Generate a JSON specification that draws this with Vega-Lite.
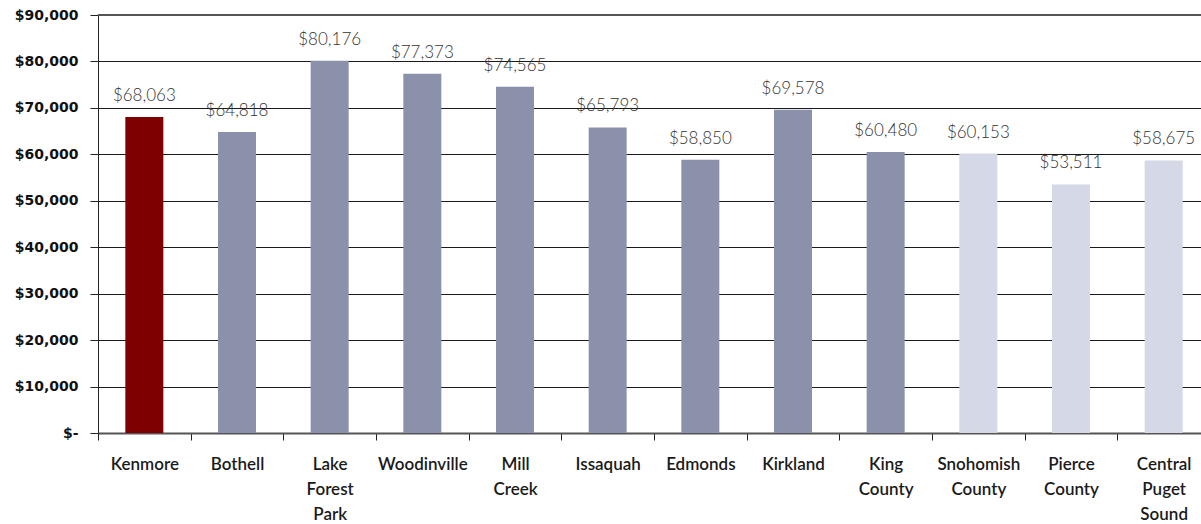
{
  "$schema": "https://vega.github.io/schema/vega-lite/v6.json",
  "width": 1103,
  "height": 418,
  "autosize": {"type": "none"},
  "padding": {"left": 98, "top": 15, "right": 0, "bottom": 91},
  "background": "white",
  "config": {"view": {"stroke": null}},
  "data": {
    "values": [
      {"place": "Kenmore", "income": 68063, "group": "Kenmore"},
      {"place": "Bothell", "income": 64818, "group": "City"},
      {"place": "Lake Forest Park", "income": 80176, "group": "City"},
      {"place": "Woodinville", "income": 77373, "group": "City"},
      {"place": "Mill Creek", "income": 74565, "group": "City"},
      {"place": "Issaquah", "income": 65793, "group": "City"},
      {"place": "Edmonds", "income": 58850, "group": "City"},
      {"place": "Kirkland", "income": 69578, "group": "City"},
      {"place": "King County", "income": 60480, "group": "City"},
      {"place": "Snohomish County", "income": 60153, "group": "Region"},
      {"place": "Pierce County", "income": 53511, "group": "Region"},
      {"place": "Central Puget Sound", "income": 58675, "group": "Region"}
    ]
  },
  "encoding": {
    "x": {
      "field": "place",
      "type": "nominal",
      "sort": null,
      "scale": {"range": [0, 1112], "paddingInner": 0.59, "paddingOuter": 0.295},
      "axis": {
        "title": null,
        "labelAngle": 0,
        "labelExpr": "split(datum.value, ' ')",
        "labelFont": "Lato",
        "labelFontWeight": 600,
        "labelFontSize": 17,
        "labelLineHeight": 25,
        "labelColor": "#1a1a1a",
        "labelBaseline": "top",
        "labelPadding": 16,
        "bandPosition": 0,
        "tickOffset": -27.3,
        "labelOffset": 27.3,
        "tickSize": 7,
        "tickColor": "#222",
        "domainColor": "#555",
        "domainWidth": 2,
        "grid": false
      }
    },
    "y": {
      "field": "income",
      "type": "quantitative",
      "scale": {"domain": [0, 90000], "nice": false},
      "axis": {
        "title": null,
        "values": [0, 10000, 20000, 30000, 40000, 50000, 60000, 70000, 80000, 90000],
        "labelExpr": "datum.value === 0 ? '$-' : '$' + format(datum.value, ',')",
        "labelFont": "DejaVu Sans",
        "labelFontWeight": "bold",
        "labelFontSize": 14,
        "labelColor": "#111",
        "labelPadding": 12,
        "tickSize": 8,
        "tickColor": "#222",
        "domainColor": "#222",
        "grid": true,
        "gridColor": "#1a1a1a",
        "gridWidth": 1
      }
    }
  },
  "layer": [
    {
      "mark": {"type": "bar"},
      "encoding": {
        "color": {
          "field": "group",
          "type": "nominal",
          "scale": {"domain": ["Kenmore", "City", "Region"], "range": ["#7f0000", "#8b90ab", "#d4d8e7"]},
          "legend": null
        }
      }
    },
    {
      "mark": {"type": "text", "baseline": "bottom", "dy": -12, "font": "Lato", "fontWeight": 300, "fontSize": 17, "color": "#333"},
      "encoding": {
        "text": {"field": "income", "type": "quantitative", "format": "$,.0f"}
      }
    },
    {
      "mark": {"type": "rule", "color": "#555", "strokeWidth": 2},
      "encoding": {"y": {"datum": 90000}, "x": null}
    }
  ]
}
